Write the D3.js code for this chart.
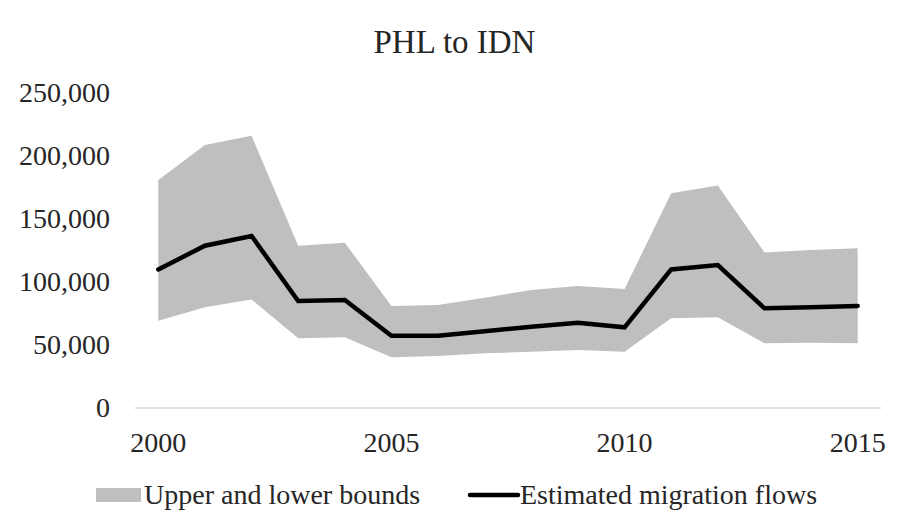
<!DOCTYPE html>
<html><head><meta charset="utf-8">
<script src="https://cdn.jsdelivr.net/npm/d3@7/dist/d3.min.js"></script>
<style>body{margin:0;background:#fff}svg{display:block}text{font-family:"Liberation Serif","Times New Roman",serif;fill:#262626}</style>
</head><body><svg id="c" width="899" height="532"></svg>
<script>
const title = "PHL to IDN";
const years = [2000,2001,2002,2003,2004,2005,2006,2007,2008,2009,2010,2011,2012,2013,2014,2015];
const estimated = [110000,128800,136500,84900,85700,57400,57400,61000,64500,67700,64000,110000,113500,79100,79900,81000];
const upper = [181000,208700,216000,128800,131200,81000,81700,87500,93700,96800,94400,170400,176500,123500,125400,126700];
const lower = [69300,79900,86200,55300,56100,40200,41300,43400,44700,46000,44700,71200,72000,51300,51800,51300];
const yTicks = [0,50000,100000,150000,200000,250000];
const xTickLabels = [2000,2005,2010,2015];
const legendLabels = ["Upper and lower bounds","Estimated migration flows"];

const svg = d3.select("#c");
const x = d3.scalePoint().domain(years).range([135,881]).padding(0.5);
const y = d3.scaleLinear().domain([0,250000]).range([408,93]);
const data = years.map((yr,i)=>({yr,e:estimated[i],u:upper[i],l:lower[i]}));

svg.append("text").attr("x",454.5).attr("y",53).attr("text-anchor","middle").style("font-size","33px").text(title);

svg.append("path").datum(data).attr("fill","#bfbfbf")
  .attr("d",d3.area().x(d=>x(d.yr)).y0(d=>y(d.l)).y1(d=>y(d.u)));

// x axis line
svg.append("line").attr("x1",135).attr("x2",881).attr("y1",y(0)).attr("y2",y(0)).attr("stroke","#d9d9d9").attr("stroke-width",1.5);

svg.append("path").datum(data).attr("fill","none").attr("stroke","#000").attr("stroke-width",4.5).attr("stroke-linejoin","miter").attr("stroke-linecap","round")
  .attr("d",d3.line().x(d=>x(d.yr)).y(d=>y(d.e)));

const fmt = d3.format(",");
svg.selectAll(".yt").data(yTicks).enter().append("text").attr("x",110).attr("y",d=>y(d)).attr("dy","0.33em")
  .attr("text-anchor","end").style("font-size","28px").text(d=>fmt(d));

svg.selectAll(".xt").data(xTickLabels).enter().append("text").attr("x",d=>x(d)).attr("y",451.5)
  .attr("text-anchor","middle").style("font-size","28px").text(d=>d);

// legend
svg.append("rect").attr("x",96).attr("y",488).attr("width",45).attr("height",14).attr("fill","#bfbfbf");
svg.append("text").attr("x",144).attr("y",504).style("font-size","28px").text(legendLabels[0]);
svg.append("line").attr("x1",470).attr("x2",518).attr("y1",495).attr("y2",495).attr("stroke","#000").attr("stroke-width",4.5).attr("stroke-linecap","round");
svg.append("text").attr("x",520).attr("y",504).style("font-size","28px").text(legendLabels[1]);
</script></body></html>
